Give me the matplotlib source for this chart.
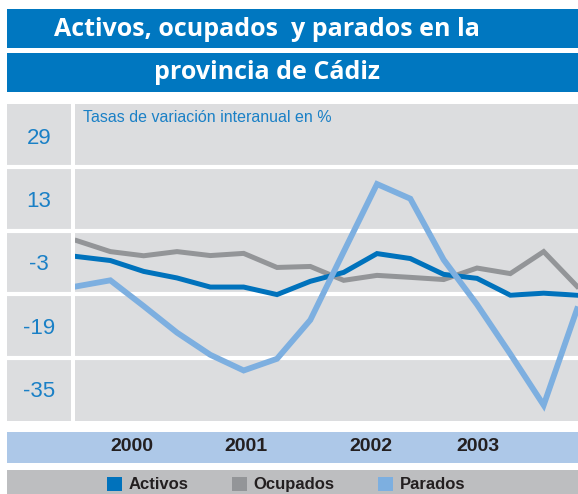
import matplotlib
matplotlib.use("Agg")
import matplotlib.pyplot as plt
from matplotlib.patches import Rectangle, Patch

# ---------------- data ----------------
quarters = list(range(16))
activos = [-1.5, -2.5, -5.25, -6.9, -9.2, -9.2, -11.1, -7.75, -5.5, -0.75, -2.0, -6.0, -7.0, -11.25, -10.75, -11.25]
ocupados = [2.5, -0.25, -1.3, -0.25, -1.25, -0.7, -4.25, -4.0, -7.5, -6.25, -6.75, -7.3, -4.4, -5.8, -0.25, -9.0]
parados = [-9.0, -7.5, -14.0, -20.7, -26.3, -30.25, -27.3, -17.5, -0.3, 16.8, 13.1, -2.3, -13.6, -26.1, -39.0, -14.8]
year_labels = ['2000', '2001', '2002', '2003']
year_pos = [1.65, 5.07, 8.82, 12.03]
ytick_vals = [29, 13, -3, -19, -35]
grid_vals = [21, 5, -11, -27]

C_TITLE = '#0077c0'
C_BG = '#dcdddf'
C_ACT = '#0072bc'
C_OCU = '#939598'
C_PAR = '#7dafe0'
C_YEAR = '#adc8e8'
C_LEG = '#bdbec0'
C_TXT = '#1a80c6'
FONT = 'Liberation Sans'

W, H = 578, 494
fig = plt.figure(figsize=(W / 100, H / 100), dpi=100)
fig.patch.set_facecolor('white')


def rect(x0, y0, x1, y1):
    return [x0 / W, 1 - y1 / H, (x1 - x0) / W, (y1 - y0) / H]


def band(x0, y0, x1, y1, color):
    r = rect(x0, y0, x1, y1)
    fig.add_artist(Rectangle((r[0], r[1]), r[2], r[3], transform=fig.transFigure,
                             facecolor=color, edgecolor='none', zorder=0))


# title bars
band(7, 9, 578, 48.5, C_TITLE)
band(7, 53, 578, 92, C_TITLE)
fig.text(267 / W, 1 - 29 / H, 'Activos, ocupados  y parados en la', color='white',
         fontsize=18, fontweight='bold', family='Open Sans', ha='center', va='center')
fig.text(267 / W, 1 - 72 / H, 'provincia de Cádiz', color='white',
         fontsize=18, fontweight='bold', family='Open Sans', ha='center', va='center')

# bands below
band(7, 432, 578, 463, C_YEAR)
band(7, 470, 578, 494, C_LEG)

# label column
axl = fig.add_axes(rect(7, 104, 71, 421))
axl.set_facecolor(C_BG)
axl.set_xlim(0, 1)
axl.set_ylim(-43, 37)
for s in axl.spines.values():
    s.set_visible(False)
axl.set_xticks([])
axl.set_yticks(ytick_vals)
axl.set_yticklabels([str(v) for v in ytick_vals])
axl.tick_params(axis='y', length=0, pad=-23, labelcolor=C_TXT, labelsize=16)
for t in axl.get_yticklabels():
    t.set_horizontalalignment('center')
    t.set_family(FONT)
for g in grid_vals:
    axl.axhline(g, color='white', lw=3)

# main axes
ax = fig.add_axes(rect(75, 104, 578, 421))
ax.set_facecolor(C_BG)
ax.set_xlim(-0.06, 15.03)
ax.set_ylim(-43, 37)
for s in ax.spines.values():
    s.set_visible(False)
ax.set_yticks([])
for g in grid_vals:
    ax.axhline(g, color='white', lw=3, zorder=1)

ax.plot(quarters, ocupados, color=C_OCU, lw=3.6, zorder=3, solid_joinstyle='miter')
ax.plot(quarters, activos, color=C_ACT, lw=3.6, zorder=4, solid_joinstyle='miter')
ax.plot(quarters, parados, color=C_PAR, lw=4.2, zorder=5, solid_joinstyle='miter')

ax.set_xticks(year_pos)
ax.set_xticklabels(year_labels)
ax.tick_params(axis='x', length=0, pad=12, labelsize=14, labelcolor='#231f20')
for t in ax.get_xticklabels():
    t.set_family(FONT)
    t.set_fontweight('bold')

ax.text(8 / 503, 1 - 13 / 317, 'Tasas de variación interanual en %', transform=ax.transAxes,
        color=C_TXT, fontsize=11.5, family=FONT, ha='left', va='center')

handles = [Patch(facecolor=C_ACT, label='Activos'),
           Patch(facecolor=C_OCU, label='Ocupados'),
           Patch(facecolor=C_PAR, label='Parados')]
leg = fig.legend(handles=handles, loc='center', bbox_to_anchor=(286 / W, 1 - 484.5 / H), ncol=3,
                 frameon=False, prop={'family': FONT, 'weight': 'bold', 'size': 12},
                 handlelength=0.9, handleheight=0.9, handletextpad=0.4, columnspacing=2.6,
                 borderpad=0, borderaxespad=0)
for t in leg.get_texts():
    t.set_color('#231f20')

fig.savefig('out.png', dpi=100)
